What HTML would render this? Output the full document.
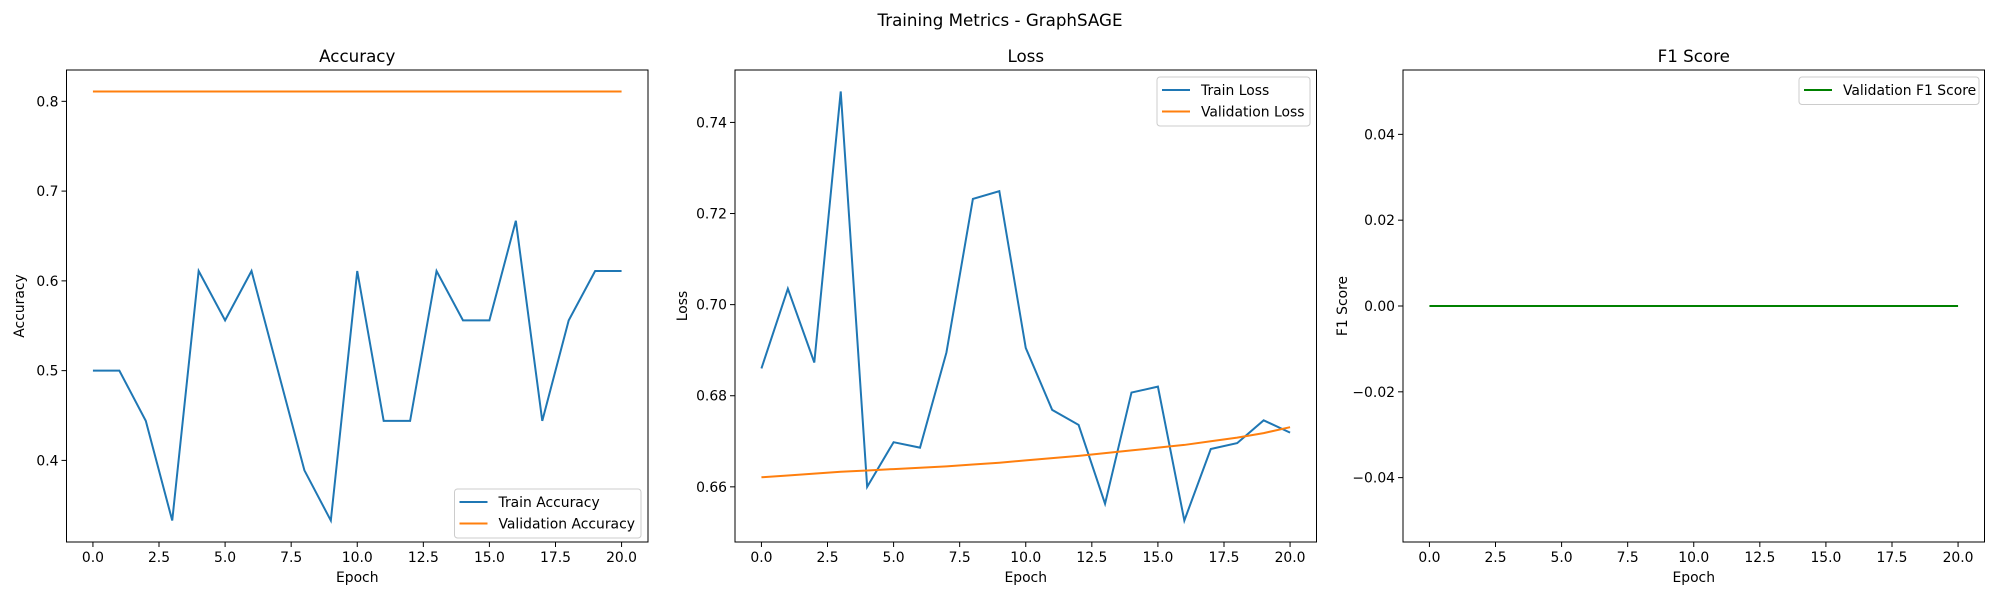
<!DOCTYPE html>
<html><head><meta charset="utf-8"><style>
body{margin:0;background:#fff;}
svg{display:block;font-family:"DejaVu Sans","Liberation Sans",sans-serif;}
</style></head><body>
<svg id="chart" width="2000" height="600" viewBox="0 0 2000 600" xmlns="http://www.w3.org/2000/svg">
<text x="1000" y="26" font-size="16.7" text-anchor="middle">Training Metrics - GraphSAGE</text>
</svg>
<script>
const epochs = [0,1,2,3,4,5,6,7,8,9,10,11,12,13,14,15,16,17,18,19,20];
const trainAcc = [0.5,0.5,0.444,0.333,0.611,0.556,0.611,0.5,0.389,0.333,0.611,0.444,0.444,0.611,0.556,0.556,0.667,0.444,0.556,0.611,0.611];
const valAcc = [0.811,0.811,0.811,0.811,0.811,0.811,0.811,0.811,0.811,0.811,0.811,0.811,0.811,0.811,0.811,0.811,0.811,0.811,0.811,0.811,0.811];
const trainLoss = [0.686,0.7035,0.6873,0.7468,0.660,0.6698,0.6686,0.6895,0.7232,0.7249,0.6905,0.6769,0.6736,0.6563,0.6807,0.682,0.6526,0.6683,0.6696,0.6746,0.6719];
const valLoss = [0.6621,0.6625,0.6629,0.6633,0.6636,0.6639,0.6642,0.6645,0.6649,0.6653,0.6658,0.6663,0.6668,0.6674,0.6680,0.6686,0.6692,0.6700,0.6708,0.6718,0.6731];
const valF1 = [0,0,0,0,0,0,0,0,0,0,0,0,0,0,0,0,0,0,0,0,0];
const xTicks = [0,2.5,5,7.5,10,12.5,15,17.5,20];
const xTickLabels = ["0.0","2.5","5.0","7.5","10.0","12.5","15.0","17.5","20.0"];
const accTicks = [0.4,0.5,0.6,0.7,0.8];
const accTickLabels = ["0.4","0.5","0.6","0.7","0.8"];
const lossTicks = [0.66,0.68,0.70,0.72,0.74];
const lossTickLabels = ["0.66","0.68","0.70","0.72","0.74"];
const f1Ticks = [-0.04,-0.02,0,0.02,0.04];
const f1TickLabels = ["\u22120.04","\u22120.02","0.00","0.02","0.04"];

const NS = "http://www.w3.org/2000/svg";
const svg = document.getElementById('chart');
function mk(tag, attrs, parent){
  const e = document.createElementNS(NS, tag);
  for (const k in attrs) e.setAttribute(k, attrs[k]);
  (parent||svg).appendChild(e);
  return e;
}
function range(arrs){
  let lo=Infinity, hi=-Infinity;
  arrs.forEach(a=>a.forEach(v=>{lo=Math.min(lo,v);hi=Math.max(hi,v);}));
  if (hi===lo){ return [lo-0.055, hi+0.055]; }
  const m=(hi-lo)*0.05; return [lo-m, hi+m];
}
function panel(cfg){
  const L=cfg.left, R=L+581.5, T=70, B=542;
  const xmin=-1, xmax=21;
  const [ymin,ymax]=range(cfg.series.map(s=>s.data));
  const sx=v=>L+(v-xmin)/(xmax-xmin)*(R-L);
  const sy=v=>B-(v-ymin)/(ymax-ymin)*(B-T);
  const g = mk('g',{});
  
  
  const t = mk('text',{x:(L+R)/2,y:T-8,'font-size':16.7,'text-anchor':'middle'},g);
  t.textContent=cfg.title;
  
  
  xTicks.forEach((v,i)=>{
    mk('line',{x1:sx(v),x2:sx(v),y1:B,y2:B+5,stroke:'#000','stroke-width':1},g);
    const tl = mk('text',{x:sx(v),y:B+20,'font-size':13.9,'text-anchor':'middle'},g);
    tl.textContent=xTickLabels[i];
    
    
  });
  cfg.yTicks.forEach((v,i)=>{
    mk('line',{x1:L-5,x2:L,y1:sy(v),y2:sy(v),stroke:'#000','stroke-width':1},g);
    const tl = mk('text',{x:L-8,y:sy(v)+5,'font-size':13.9,'text-anchor':'end'},g);
    tl.textContent=cfg.yTickLabels[i];
    
    
  });
  const xl = mk('text',{x:(L+R)/2,y:582,'font-size':13.9,'text-anchor':'middle'},g);
  xl.textContent='Epoch';
  
  
  const yl = mk('text',{x:0,y:0,'font-size':13.9,'text-anchor':'middle',transform:`translate(${cfg.ylx},${(T+B)/2}) rotate(-90)`},g);
  yl.textContent=cfg.ylabel;
  
  
  cfg.series.forEach(s=>{
    const d = s.data.map((v,i)=>(i?'L':'M')+sx(epochs[i]).toFixed(2)+' '+sy(v).toFixed(2)).join(' ');
    const p = mk('path',{d:d,fill:'none',stroke:s.color,'stroke-width':2,'stroke-linejoin':'miter'},g);
    
    
  });
  mk('rect',{x:L,y:T,width:R-L,height:B-T,fill:'none',stroke:'#000','stroke-width':1},g);
  const lg = cfg.legend;
  const lgG = mk('g',{},g);
  
  
  mk('rect',{x:lg.x,y:lg.y,width:lg.w,height:6+cfg.series.length*21.5,fill:'#fff','fill-opacity':0.8,stroke:'#ccc',rx:3},lgG);
  cfg.series.forEach((s,i)=>{
    const yy=lg.y+13+i*21.5;
    mk('line',{x1:lg.x+5,x2:lg.x+33,y1:yy,y2:yy,stroke:s.color,'stroke-width':2},lgG);
    const et = mk('text',{x:lg.x+44,y:yy+5,'font-size':13.9},lgG);
    et.textContent=s.label;
    
    
  });
}
panel({name:'accuracy',title:'Accuracy',left:66.5,ylabel:'Accuracy',ylx:24,yTicks:accTicks,yTickLabels:accTickLabels,
  series:[{id:'train-accuracy',label:'Train Accuracy',data:trainAcc,color:'#1f77b4'},{id:'validation-accuracy',label:'Validation Accuracy',data:valAcc,color:'#ff7f0e'}],
  legend:{x:454.5,y:489,w:186.5}});
panel({name:'loss',title:'Loss',left:735,ylabel:'Loss',ylx:687,yTicks:lossTicks,yTickLabels:lossTickLabels,
  series:[{id:'train-loss',label:'Train Loss',data:trainLoss,color:'#1f77b4'},{id:'validation-loss',label:'Validation Loss',data:valLoss,color:'#ff7f0e'}],
  legend:{x:1157,y:77,w:153}});
panel({name:'f1',title:'F1 Score',left:1403,ylabel:'F1 Score',ylx:1347,yTicks:f1Ticks,yTickLabels:f1TickLabels,
  series:[{id:'validation-f1',label:'Validation F1 Score',data:valF1,color:'#008000'}],
  legend:{x:1799,y:77,w:180}});
</script>
</body></html>
